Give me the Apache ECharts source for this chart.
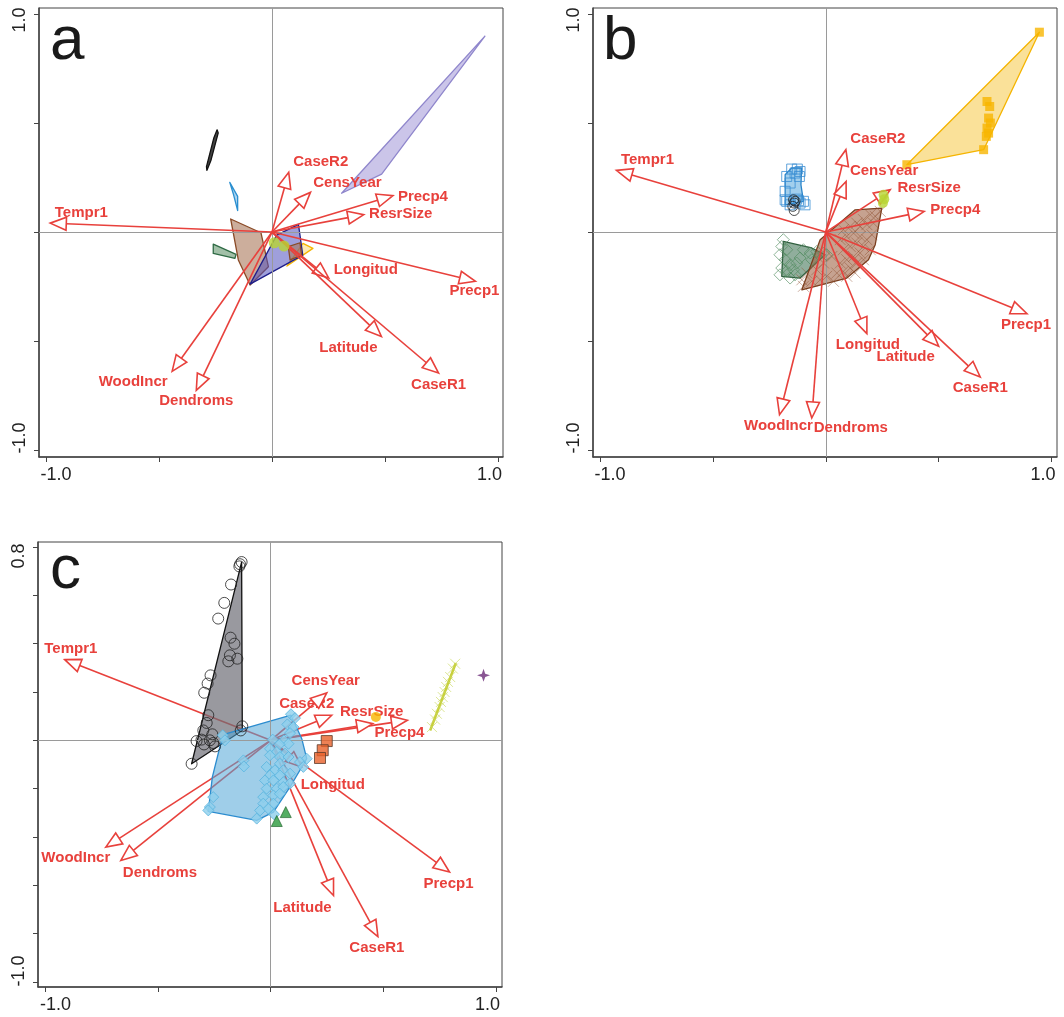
<!DOCTYPE html>
<html>
<head>
<meta charset="utf-8">
<script src="https://cdn.jsdelivr.net/npm/echarts@6/dist/echarts.min.js"></script>
<style>
html,body{margin:0;padding:0;background:#fff}
#chart{width:1064px;height:1017px}
</style>
</head>
<body>
<div id="chart"></div>
<script>
// variable arrows (same order in every panel)
var varNames = ['Tempr1','CaseR2','CensYear','Precp4','ResrSize','Precp1','Longitud','Latitude','CaseR1','WoodIncr','Dendroms'];

var arrowsA = [[-0.981,0.041],[0.074,0.274],[0.170,0.182],[0.535,0.167],[0.406,0.080],[0.900,-0.226],
  [0.251,-0.211],[0.484,-0.479],[0.737,-0.647],[-0.442,-0.639],[-0.335,-0.726]];
var arrowsB = [[-0.927,0.283],[0.089,0.378],[0.090,0.232],[0.436,0.095],[0.285,0.194],[0.891,-0.375],
  [0.182,-0.466],[0.500,-0.524],[0.684,-0.665],[-0.205,-0.838],[-0.062,-0.853]];
var arrowsC = [[-0.914,0.334],[0.271,0.104],[0.249,0.196],[0.607,0.083],[0.453,0.069],[0.794,-0.545],
  [0.138,-0.110],[0.279,-0.642],[0.476,-0.812],[-0.732,-0.442],[-0.665,-0.497]];

// tick values / labels
var ticksAB = [-1,-0.5,0,0.5,1];
var labelsAB = [-1,1];
var ticksCY = [-1,-0.8,-0.6,-0.4,-0.2,0,0.2,0.4,0.6,0.8];
var labelsCY = [-1,0.8];

// panel a: hulls and points
var hullA_black = [[-0.243,0.469],[-0.238,0.455],[-0.270,0.330],[-0.288,0.283],[-0.290,0.300],[-0.258,0.430]];
var hullA_blue = [[-0.187,0.228],[-0.152,0.164],[-0.152,0.099],[-0.170,0.171]];
var hullA_brown = [[-0.183,0.060],[-0.049,-0.003],[-0.016,-0.159],[-0.097,-0.243],[-0.149,-0.128]];
var hullA_green = [[-0.260,-0.055],[-0.159,-0.102],[-0.164,-0.121],[-0.260,-0.098]];
var hullA_navy = [[0.117,0.035],[0.136,-0.106],[-0.097,-0.239],[0.021,-0.014]];
var hullA_brown2 = [[0.072,-0.067],[0.124,-0.049],[0.131,-0.106],[0.080,-0.128]];
var hullA_yellow = [[0.137,-0.052],[0.181,-0.075],[0.066,-0.156]];
var hullA_purple = [[0.942,0.899],[0.485,0.266],[0.308,0.178]];
var dotsA_lime = [[0.010,-0.049],[0.053,-0.064]];

// panel b
var hullB_yellow = [[0.359,0.309],[0.946,0.917],[0.699,0.378]];
var squaresB_yellow = [[0.714,0.599],[0.726,0.576],[0.721,0.523],[0.729,0.500],[0.714,0.477],[0.721,0.454],
  [0.711,0.439],[0.699,0.378],[0.359,0.309],[0.946,0.917]];
var hullB_blue = [[-0.151,0.294],[-0.107,0.294],[-0.110,0.217],[-0.099,0.141],[-0.180,0.125],[-0.180,0.263]];
var squaresB_blue = [[-0.151,0.289],[-0.126,0.289],[-0.114,0.278],[-0.136,0.271],[-0.117,0.255],[-0.173,0.255],
  [-0.158,0.225],[-0.180,0.187],[-0.180,0.148],[-0.173,0.141],[-0.121,0.144],[-0.099,0.141],[-0.092,0.125],
  [-0.114,0.133],[-0.158,0.125],[-0.129,0.151]];
var circlesB = [[-0.143,0.148],[-0.140,0.133],[-0.146,0.118],[-0.140,0.099],[-0.136,0.141]];
var hullB_green = [[-0.188,-0.043],[-0.062,-0.073],[-0.003,-0.104],[-0.114,-0.211],[-0.195,-0.203]];
var diamondsB = [[-0.188,-0.035],[-0.195,-0.066],[-0.173,-0.081],[-0.203,-0.104],[-0.180,-0.127],[-0.158,-0.150],
  [-0.195,-0.165],[-0.173,-0.180],[-0.143,-0.173],[-0.129,-0.142],[-0.136,-0.196],[-0.158,-0.211],[-0.203,-0.196],
  [-0.099,-0.081],[-0.069,-0.096],[-0.040,-0.089],[-0.010,-0.096],[0.004,-0.104],[-0.062,-0.127],[-0.114,-0.119]];
var hullB_brown = [[0.248,0.110],[0.130,0.102],[-0.025,-0.035],[-0.106,-0.265],[0.093,-0.211],[0.189,-0.127],[0.219,-0.058]];
var crossesB = [[0.241,0.095],[0.219,0.072],[0.197,0.080],[0.167,0.057],[0.137,0.041],[0.108,0.026],[0.078,0.011],
  [0.152,0.026],[0.182,0.034],[0.211,0.041],[0.123,-0.005],[0.093,-0.020],[0.064,-0.035],[0.152,-0.020],
  [0.182,-0.035],[0.204,-0.012],[0.137,-0.050],[0.108,-0.066],[0.078,-0.081],[0.167,-0.066],[0.197,-0.081],
  [0.152,-0.096],[0.123,-0.112],[0.093,-0.127],[0.064,-0.142],[0.137,-0.142],[0.167,-0.127],[0.108,-0.165],
  [0.078,-0.180],[0.049,-0.188],[0.004,-0.203],[-0.025,-0.219],[-0.062,-0.226],[-0.099,-0.249],[-0.106,-0.219],
  [-0.084,-0.188],[-0.040,-0.173],[-0.010,-0.142],[0.027,-0.112],[0.130,-0.188],[0.093,-0.203],[0.034,-0.226]];
var dotsB_lime = [[0.256,0.171],[0.259,0.151],[0.253,0.133]];

// panel c
var hullC_gray = [[-0.129,0.738],[-0.126,0.041],[-0.351,-0.097]];
var circlesC = [[-0.129,0.738],[-0.136,0.729],[-0.139,0.720],[-0.176,0.645],[-0.206,0.569],[-0.233,0.504],
  [-0.178,0.425],[-0.161,0.400],[-0.181,0.352],[-0.148,0.338],[-0.188,0.327],[-0.267,0.269],[-0.280,0.235],
  [-0.295,0.197],[-0.277,0.104],[-0.284,0.072],[-0.299,0.041],[-0.259,0.025],[-0.329,-0.003],[-0.307,0.003],
  [-0.296,-0.017],[-0.270,0.000],[-0.247,-0.025],[-0.255,-0.011],[-0.126,0.058],[-0.133,0.041],[-0.351,-0.097]];
var hullC_blue = [[0.090,0.104],[0.138,0.007],[0.160,-0.076],[0.086,-0.193],[0.012,-0.297],[-0.062,-0.331],
  [-0.277,-0.294],[-0.259,-0.152],[-0.222,-0.014],[-0.196,0.028]];
var diamondsC = [[0.090,0.108],[0.108,0.092],[0.074,0.066],[0.101,0.055],[0.086,0.030],[-0.213,0.021],[-0.203,0.000],
  [0.009,0.003],[0.059,0.000],[0.079,-0.014],[0.039,-0.017],[-0.003,-0.035],[0.027,-0.048],[0.064,-0.055],
  [-0.003,-0.062],[0.041,-0.069],[0.079,-0.069],[0.160,-0.076],[0.130,-0.090],[0.145,-0.110],[0.041,-0.097],
  [-0.018,-0.110],[0.019,-0.124],[0.056,-0.124],[-0.121,-0.083],[-0.119,-0.108],[-0.003,-0.145],[0.041,-0.145],
  [0.086,-0.138],[-0.025,-0.166],[0.012,-0.166],[0.056,-0.173],[0.086,-0.179],[-0.018,-0.200],[0.027,-0.200],
  [0.056,-0.193],[-0.033,-0.235],[0.012,-0.228],[0.041,-0.221],[-0.033,-0.262],[0.012,-0.262],[-0.047,-0.290],
  [-0.010,-0.283],[-0.270,-0.276],[-0.277,-0.290],[-0.062,-0.324],[0.015,-0.306],[-0.255,-0.235]];
var squaresC = [[0.249,-0.003],[0.231,-0.041],[0.219,-0.073]];
var trianglesC = [[0.067,-0.297],[0.027,-0.334]];
var dotC_orange = [[0.467,0.097]];
var starC = [[0.945,0.269]];
var lineC_lime = [[0.708,0.041],[0.822,0.320]];
var crossesC = [[0.716,0.055],[0.730,0.086],[0.738,0.110],[0.750,0.138],[0.756,0.159],[0.764,0.179],
  [0.772,0.200],[0.779,0.221],[0.787,0.242],[0.797,0.262],[0.809,0.297],[0.819,0.317]];

// label offsets from arrow tips (px)
var offA = [[31,-10],[32,-10],[37,-10],[30,1],[37,-1],[-1,10],[37,-8],[-33,11],[0,12],[-39,11],[0,11]];
var offB = [[31,-11],[32,-11],[38,-11],[31,-1],[39,-2],[-1,11],[1,11],[-33,11],[0,11],[-1,11],[39,10]];
var offC = [[6,-11],[-25,-11],[-1,-12],[-8,13],[-1,-12],[-1,12],[31,18],[-31,12],[-1,11],[-30,11],[39,12]];

var RED = '#e8413c';
var FONT = '"Liberation Sans", Arial, Helvetica, sans-serif';

function arrowSeries(gi, arrows, offsets, z) {
	return {
		type: 'custom', xAxisIndex: gi, yAxisIndex: gi, z: z, silent: true, clip: false,
		data: arrows,
		renderItem: function (params, api) {
			var o = api.coord([0, 0]);
			var t = api.coord([api.value(0), api.value(1)]);
			var dx = t[0] - o[0], dy = t[1] - o[1];
			var len = Math.sqrt(dx * dx + dy * dy);
			var ux = dx / len, uy = dy / len;
			var L = 16, W = 6.5;
			var bx = t[0] - ux * L, by = t[1] - uy * L;
			var off = offsets[params.dataIndex];
			return {
				type: 'group',
				children: [{
					type: 'line',
					shape: {x1: o[0], y1: o[1], x2: bx, y2: by},
					style: {stroke: RED, lineWidth: 1.6}
				}, {
					type: 'polygon',
					shape: {points: [t, [bx - uy * W, by + ux * W], [bx + uy * W, by - ux * W]]},
					style: {fill: '#fff', stroke: RED, lineWidth: 1.6}
				}, {
					type: 'text',
					x: t[0] + off[0], y: t[1] + off[1],
					style: {
						text: varNames[params.dataIndex], fill: RED,
						font: 'bold 15px ' + FONT,
						align: 'center', verticalAlign: 'middle',
						textAlign: 'center', textVerticalAlign: 'middle'
					}
				}]
			};
		}
	};
}

function hullSeries(gi, pts, stroke, fill, z) {
	return {
		type: 'custom', xAxisIndex: gi, yAxisIndex: gi, z: z, silent: true, clip: false,
		data: pts,
		renderItem: function (params, api) {
			if (params.dataIndex !== 0) return null;
			return {
				type: 'polygon',
				shape: {points: pts.map(function (p) { return api.coord(p); })},
				style: {fill: fill, stroke: stroke, lineWidth: 1.3, lineJoin: 'round'}
			};
		}
	};
}

function pointSeries(gi, data, symbol, size, itemStyle, z) {
	return {
		type: 'scatter', xAxisIndex: gi, yAxisIndex: gi, z: z, silent: true,
		data: data, symbol: symbol, symbolSize: size, itemStyle: itemStyle
	};
}

function zeroLines(gi) {
	return {
		type: 'scatter', xAxisIndex: gi, yAxisIndex: gi, z: 1, silent: true, data: [],
		markLine: {
			silent: true, symbol: 'none', animation: false,
			label: {show: false},
			lineStyle: {color: '#9a9a9a', width: 1, type: 'solid'},
			data: [{xAxis: 0}, {yAxis: 0}]
		}
	};
}

function xAxisCfg(gi, min, max) {
	return {
		gridIndex: gi, type: 'value', min: min, max: max,
		splitLine: {show: false},
		axisLine: {show: true, onZero: false, lineStyle: {color: '#444', width: 1.5}},
		axisTick: {show: true, customValues: ticksAB, length: 5, lineStyle: {color: '#444'}},
		axisLabel: {
			customValues: labelsAB, margin: 9, color: '#222', fontSize: 18, fontFamily: FONT,
			formatter: function (v) { return v < 0 ? '{lo|' + v.toFixed(1) + '}' : '{hi|' + v.toFixed(1) + '}'; },
			rich: {lo: {fontSize: 18, padding: [0, 0, 0, 20]}, hi: {fontSize: 18, padding: [0, 17, 0, 0]}}
		}
	};
}

function yAxisCfg(gi, min, max, ticks, labels, padLo, padHi) {
	return {
		gridIndex: gi, type: 'value', min: min, max: max,
		splitLine: {show: false},
		axisLine: {show: true, onZero: false, lineStyle: {color: '#444', width: 1.5}},
		axisTick: {show: true, customValues: ticks, length: 5, lineStyle: {color: '#444'}},
		axisLabel: {
			customValues: labels, margin: 10, rotate: 90, color: '#222', fontSize: 18, fontFamily: FONT,
			formatter: function (v) { return v < 0 ? '{lo|' + v.toFixed(1) + '}' : '{hi|' + v.toFixed(1) + '}'; },
			rich: {lo: {fontSize: 18, padding: [0, 0, 0, padLo]}, hi: {fontSize: 18, padding: [0, padHi, 0, 0]}}
		}
	};
}

var crossPath = 'path://M0,0L10,10M10,0L0,10';
var starPath = 'path://M5,0L6.3,3.7L10,5L6.3,6.3L5,10L3.7,6.3L0,5L3.7,3.7Z';

var myChart = echarts.init(document.getElementById('chart'), null, {renderer: 'canvas'});
var option = {
	animation: false,
	backgroundColor: '#fff',
	grid: [
		{left: 39, top: 8, width: 464, height: 449, show: true, borderColor: '#444', borderWidth: 1, outerBoundsMode: 'none'},
		{left: 593, top: 8, width: 464, height: 449, show: true, borderColor: '#444', borderWidth: 1, outerBoundsMode: 'none'},
		{left: 38, top: 542, width: 464, height: 445, show: true, borderColor: '#444', borderWidth: 1, outerBoundsMode: 'none'}
	],
	xAxis: [
		xAxisCfg(0, -1.031, 1.022),
		xAxisCfg(1, -1.031, 1.024),
		xAxisCfg(2, -1.033, 1.027)
	],
	yAxis: [
		yAxisCfg(0, -1.032, 1.028, ticksAB, labelsAB, 24, 12),
		yAxisCfg(1, -1.032, 1.028, ticksAB, labelsAB, 24, 12),
		yAxisCfg(2, -1.021, 0.821, ticksCY, labelsCY, 22, 18)
	],
	graphic: [
		{type: 'text', x: 50, y: 42, style: {text: 'a', font: '62px ' + FONT, fill: '#1a1a1a', verticalAlign: 'middle', textVerticalAlign: 'middle'}},
		{type: 'text', x: 603, y: 42, style: {text: 'b', font: '62px ' + FONT, fill: '#1a1a1a', verticalAlign: 'middle', textVerticalAlign: 'middle'}},
		{type: 'text', x: 50, y: 571, style: {text: 'c', font: '62px ' + FONT, fill: '#1a1a1a', verticalAlign: 'middle', textVerticalAlign: 'middle'}}
	],
	series: [
		zeroLines(0), zeroLines(1), zeroLines(2),
		// panel a
		hullSeries(0, hullA_purple, '#8f86cc', 'rgba(160,150,215,0.55)', 3),
		hullSeries(0, hullA_black, '#111', '#444', 3),
		hullSeries(0, hullA_blue, '#2a8fd0', 'rgba(90,170,225,0.5)', 3),
		hullSeries(0, hullA_green, '#2f6b45', 'rgba(100,150,110,0.6)', 3),
		hullSeries(0, hullA_brown, '#8a4a26', 'rgba(170,120,90,0.6)', 3),
		hullSeries(0, hullA_yellow, '#f5b400', 'rgba(250,220,130,0.6)', 3),
		hullSeries(0, hullA_navy, '#1f1f8a', 'rgba(80,80,190,0.55)', 4),
		hullSeries(0, hullA_brown2, '#8a4a26', 'rgba(170,120,90,0.6)', 4),
		arrowSeries(0, arrowsA, offA, 6),
		pointSeries(0, dotsA_lime, 'circle', 11, {color: '#b8d432'}, 7),
		// panel b
		hullSeries(1, hullB_yellow, '#f5b400', 'rgba(245,200,70,0.55)', 3),
		hullSeries(1, hullB_blue, '#2a84c8', 'rgba(100,175,225,0.6)', 3),
		hullSeries(1, hullB_green, '#2f5e3e', 'rgba(70,120,90,0.6)', 3),
		hullSeries(1, hullB_brown, '#7a3e1e', 'rgba(160,100,70,0.6)', 4),
		pointSeries(1, squaresB_yellow, 'rect', 9, {color: '#f7b500'}, 5),
		pointSeries(1, squaresB_blue, 'rect', 10, {color: 'rgba(0,0,0,0)', borderColor: '#3b8fd3', borderWidth: 1}, 5),
		pointSeries(1, circlesB, 'circle', 10, {color: 'rgba(0,0,0,0)', borderColor: '#222', borderWidth: 1}, 5),
		pointSeries(1, diamondsB, 'diamond', 12, {color: 'rgba(0,0,0,0)', borderColor: 'rgba(79,138,93,0.8)', borderWidth: 1}, 5),
		pointSeries(1, crossesB, crossPath, 11, {color: 'rgba(0,0,0,0)', borderColor: 'rgba(139,74,43,0.55)', borderWidth: 1}, 5),
		arrowSeries(1, arrowsB, offB, 6),
		pointSeries(1, dotsB_lime, 'circle', 10, {color: '#b8d432'}, 7),
		// panel c
		arrowSeries(2, arrowsC, offC, 2),
		hullSeries(2, hullC_gray, '#111', 'rgba(110,110,118,0.7)', 3),
		hullSeries(2, hullC_blue, '#2b8ccf', 'rgba(80,165,215,0.55)', 3),
		pointSeries(2, circlesC, 'circle', 11, {color: 'rgba(0,0,0,0)', borderColor: '#222', borderWidth: 1}, 5),
		pointSeries(2, diamondsC, 'diamond', 11, {color: '#8fd0ec', borderColor: '#5ab4df', borderWidth: 1}, 5),
		pointSeries(2, squaresC, 'rect', 11, {color: '#e8622a', borderColor: '#5b3b2b', borderWidth: 1}, 5),
		pointSeries(2, trianglesC, 'triangle', 11, {color: '#2a9a3c', borderColor: '#1b5e25', borderWidth: 0.8}, 5),
		pointSeries(2, dotC_orange, 'circle', 10, {color: '#f7b500'}, 5),
		pointSeries(2, starC, starPath, 13, {color: '#6c2c78'}, 5),
		{
			type: 'line', xAxisIndex: 2, yAxisIndex: 2, z: 4, silent: true, data: lineC_lime,
			showSymbol: false, lineStyle: {color: '#c8cf3a', width: 2.5}
		},
		pointSeries(2, crossesC, crossPath, 10, {color: 'rgba(0,0,0,0)', borderColor: 'rgba(200,216,90,0.8)', borderWidth: 1}, 5)
	]
};
myChart.setOption(option);
</script>
</body>
</html>
